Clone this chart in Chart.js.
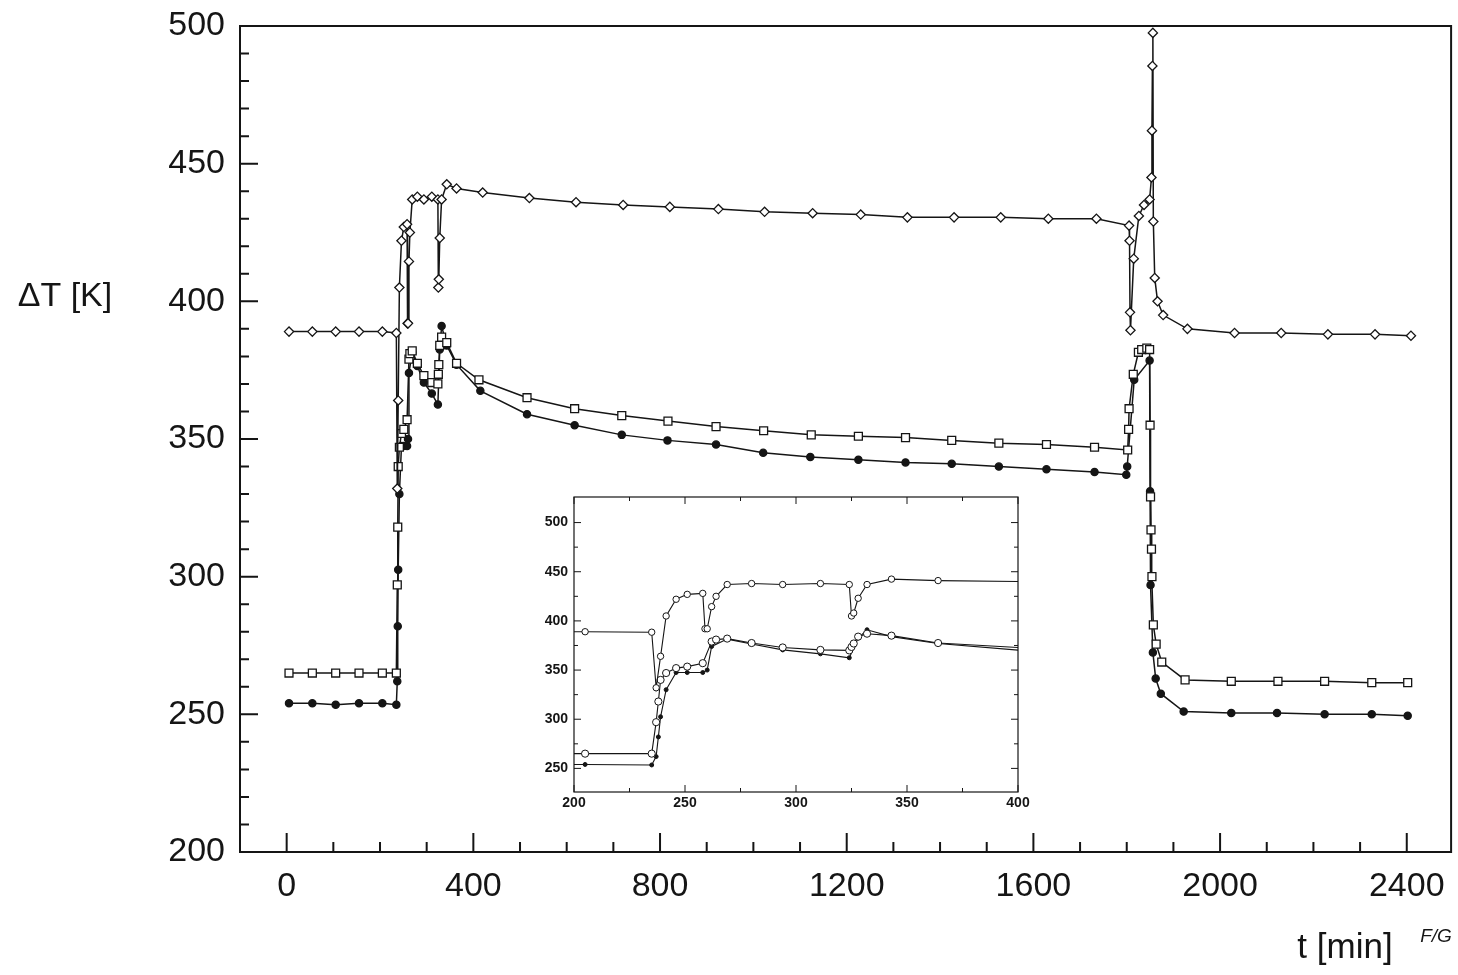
<!DOCTYPE html>
<html>
<head>
<meta charset="utf-8">
<script src="https://cdn.jsdelivr.net/npm/chart.js@4.4.1/dist/chart.umd.min.js"></script>
<style>
  body { margin: 0; background: #fff; }
  #wrap { position: relative; width: 1458px; height: 975px; }
  #insetChart { position: absolute; left: 530px; top: 490px; }
</style>
</head>
<body>
<div id="wrap">
  <canvas id="mainChart" width="1458" height="975"></canvas>
  <canvas id="insetChart" width="500" height="330"></canvas>
</div>
<script>
// open diamonds: time [min] and delta T [K]
const diamondT = [5, 55, 105, 155, 205, 235, 237, 239, 241.5, 246, 251, 258, 259, 260, 262, 264,
  269, 280, 294, 311, 324, 325, 326, 328, 332, 343, 364, 420, 520, 620, 721, 821, 925, 1024, 1127, 1230,
  1330, 1430, 1530, 1632, 1735, 1805, 1806, 1807, 1808, 1815, 1826, 1837, 1849, 1853, 1854, 1855, 1856, 1857, 1860, 1866,
  1878, 1930, 2031, 2131, 2231, 2332, 2409];
const diamondK = [389, 389, 389, 389, 389, 388.5, 332, 364, 405, 422, 427, 428, 392, 392, 414.5, 425,
  437, 438, 437, 438, 437, 405, 408, 423, 437, 442.5, 441, 439.5, 437.5, 436, 435, 434.3, 433.5, 432.5, 432, 431.5,
  430.5, 430.5, 430.5, 430, 430, 427.5, 422, 396, 389.5, 415.5, 431, 435, 437, 445, 462, 485.5, 497.5, 429, 408.5, 400,
  395, 390, 388.5, 388.5, 388, 388, 387.5];

// open squares
const squareT = [5, 55, 105, 155, 205, 235, 237, 238, 239, 241.5, 246, 251, 258, 262, 264, 269,
  280, 294, 311, 324, 325, 326, 328, 332, 343, 364, 412, 515, 617, 718, 817, 920, 1022, 1124, 1225, 1326,
  1425, 1526, 1628, 1731, 1802, 1804, 1805, 1814, 1825, 1832, 1843, 1849, 1850, 1851, 1852, 1853, 1854, 1857, 1863, 1875,
  1925, 2024, 2124, 2224, 2325, 2402];
const squareK = [265, 265, 265, 265, 265, 265, 297, 318, 340, 347, 352, 353.5, 357, 379, 381, 382,
  377.5, 373, 370.5, 370, 373.5, 377, 384, 387, 385, 377.5, 371.5, 365, 361, 358.5, 356.5, 354.5, 353, 351.5, 351, 350.5,
  349.5, 348.5, 348, 347, 346, 353.5, 361, 373.5, 381.5, 382.5, 383, 382.5, 355, 329, 317, 310, 300, 282.5, 275.5, 269,
  262.5, 262, 262, 262, 261.5, 261.5];

// filled circles
const filledT = [5, 55, 105, 155, 205, 235, 237, 238, 239, 241.5, 246, 251, 258, 260, 262, 269,
  280, 294, 311, 324, 328, 332, 343, 364, 415, 515, 617, 718, 816, 920, 1021, 1122, 1225, 1326, 1425, 1526,
  1628, 1731, 1799, 1801, 1816, 1849, 1850, 1851, 1856, 1862, 1873, 1922, 2024, 2122, 2224, 2325, 2402];
const filledK = [254, 254, 253.5, 254, 254, 253.5, 262, 282, 302.5, 330, 347.5, 347.5, 347.5, 350, 374, 381.5,
  376.5, 370.5, 366.5, 362.5, 382.5, 391, 384, 377, 367.5, 359, 355, 351.5, 349.5, 348, 345, 343.5, 342.5, 341.5, 341, 340,
  339, 338, 337, 340, 371.5, 378.5, 331, 297, 272.5, 263, 257.5, 251, 250.5, 250.5, 250, 250, 249.5];

// tick labels
const mainXTicks = [0, 400, 800, 1200, 1600, 2000, 2400];
const mainYTicks = [200, 250, 300, 350, 400, 450, 500];
const insetXTicks = [200, 250, 300, 350, 400];
const insetYTicks = [250, 300, 350, 400, 450, 500];

const ink = '#151515';

function zip(ts, ks) { return ts.map((t, i) => ({ x: t, y: ks[i] })); }

function range(a, b, step) { let out = []; for (let v = a; v <= b; v += step) { out.push(v); } return out; }

// keep the layout padding in charge, not the label overhang
function noOverhang(s) { s.paddingTop = 0; s.paddingBottom = 0; s.paddingLeft = 0; s.paddingRight = 0; }

// ticks drawn inwards from the frame
function drawTicks(ctx, scale, values, len, side, a) {
  ctx.beginPath();
  values.forEach((v) => {
    const p = scale.getPixelForValue(v);
    if (side === 'bottom') { ctx.moveTo(p, a.bottom); ctx.lineTo(p, a.bottom - len); }
    if (side === 'top') { ctx.moveTo(p, a.top); ctx.lineTo(p, a.top + len); }
    if (side === 'left') { ctx.moveTo(a.left, p); ctx.lineTo(a.left + len, p); }
    if (side === 'right') { ctx.moveTo(a.right, p); ctx.lineTo(a.right - len, p); }
  });
  ctx.stroke();
}

function decorPlugin(cfg) {
  return {
    id: 'decor',
    afterDraw(chart) {
      const { ctx, chartArea: a, scales } = chart;
      ctx.save();
      ctx.strokeStyle = ink;
      ctx.lineWidth = cfg.frameWidth;
      ctx.strokeRect(a.left, a.top, a.right - a.left, a.bottom - a.top);
      ctx.lineWidth = cfg.tickWidth;
      cfg.ticks.forEach((t) => drawTicks(ctx, scales[t.axis], t.values, t.len, t.side, a));
      ctx.fillStyle = ink;
      ctx.textBaseline = 'middle';
      (cfg.texts || []).forEach((t) => {
        ctx.font = t.font; ctx.textAlign = t.align || 'center';
        ctx.fillText(t.text, t.x, t.y);
      });
      ctx.restore();
    }
  };
}

function series(ts, ks, style, radius, fill) {
  return {
    data: zip(ts, ks),
    borderColor: ink, borderWidth: 1.5,
    pointStyle: style, pointRadius: radius,
    pointBackgroundColor: fill, pointBorderColor: ink, pointBorderWidth: 1.3,
    tension: 0
  };
}

const plain = (v) => String(v);
const tickFont = { family: '"Liberation Sans", Arial, sans-serif', size: 34 };

// main chart
new Chart('mainChart', {
  type: 'line',
  data: {
    datasets: [
      series(diamondT, diamondK, 'rectRot', 4.6, '#fff'),
      series(squareT, squareK, 'rect', 5.6, '#fff'),
      series(filledT, filledK, 'circle', 3.6, ink)
    ]
  },
  options: {
    responsive: false, animation: false,
    layout: { padding: { left: 0, top: 26, right: 3, bottom: 0 } },
    plugins: { legend: { display: false }, tooltip: { enabled: false } },
    scales: {
      x: {
        type: 'linear', min: -100, max: 2495,
        afterBuildTicks: (s) => { s.ticks = mainXTicks.map((v) => ({ value: v })); },
        afterFit: (s) => { s.height = 123; noOverhang(s); },
        grid: { display: false, drawTicks: false },
        border: { display: false },
        ticks: { color: ink, font: tickFont, padding: 14, maxRotation: 0, callback: plain }
      },
      y: {
        min: 200, max: 500,
        afterBuildTicks: (s) => { s.ticks = mainYTicks.map((v) => ({ value: v })); },
        afterFit: (s) => { s.width = 240; noOverhang(s); },
        grid: { display: false, drawTicks: false },
        border: { display: false },
        ticks: { color: ink, font: tickFont, padding: 15, callback: plain }
      }
    }
  },
  plugins: [decorPlugin({
    frameWidth: 2, tickWidth: 2,
    ticks: [
      { axis: 'x', values: mainXTicks, len: 19, side: 'bottom' },
      { axis: 'x', values: range(100, 2300, 100).filter((v) => v % 400), len: 10, side: 'bottom' },
      { axis: 'y', values: mainYTicks, len: 18, side: 'left' },
      { axis: 'y', values: range(210, 490, 10).filter((v) => v % 50), len: 9, side: 'left' }
    ],
    texts: [
      { text: 'ΔT [K]', x: 65, y: 297, font: '34px "Liberation Sans", Arial, sans-serif' },
      { text: 't [min]', x: 1345, y: 948, font: '35px "Liberation Sans", Arial, sans-serif' },
      { text: 'F/G', x: 1436, y: 937, font: 'italic 19px "Liberation Sans", Arial, sans-serif' }
    ]
  })]
});

// inset: zoom on 200..400 min
const insetFont = { family: '"Liberation Sans", Arial, sans-serif', size: 14, weight: 'bold' };

new Chart('insetChart', {
  type: 'line',
  data: {
    datasets: [
      series(diamondT, diamondK, 'circle', 3.2, '#fff'),
      series(squareT, squareK, 'circle', 3.6, '#fff'),
      series(filledT, filledK, 'circle', 2, ink)
    ].map((d) => Object.assign(d, { borderWidth: 1.1, pointBorderWidth: 1 }))
  },
  options: {
    responsive: false, animation: false,
    layout: { padding: { left: 0, top: 7, right: 12, bottom: 0 } },
    plugins: { legend: { display: false }, tooltip: { enabled: false } },
    scales: {
      x: {
        type: 'linear', min: 200, max: 400,
        afterBuildTicks: (s) => { s.ticks = insetXTicks.map((v) => ({ value: v })); },
        afterFit: (s) => { s.height = 28; noOverhang(s); },
        grid: { display: false, drawTicks: false },
        border: { display: false },
        ticks: { color: ink, font: insetFont, padding: 3, maxRotation: 0, callback: plain }
      },
      y: {
        min: 226, max: 526,
        afterBuildTicks: (s) => { s.ticks = insetYTicks.map((v) => ({ value: v })); },
        afterFit: (s) => { s.width = 44; noOverhang(s); },
        grid: { display: false, drawTicks: false },
        border: { display: false },
        ticks: { color: ink, font: insetFont, padding: 6, callback: plain }
      }
    }
  },
  plugins: [decorPlugin({
    frameWidth: 1.2, tickWidth: 1,
    ticks: [
      { axis: 'x', values: insetXTicks, len: 7, side: 'bottom' },
      { axis: 'x', values: insetXTicks, len: 7, side: 'top' },
      { axis: 'x', values: range(225, 375, 50), len: 4, side: 'bottom' },
      { axis: 'x', values: range(225, 375, 50), len: 4, side: 'top' },
      { axis: 'y', values: insetYTicks, len: 7, side: 'left' },
      { axis: 'y', values: insetYTicks, len: 7, side: 'right' },
      { axis: 'y', values: range(275, 475, 50), len: 4, side: 'left' },
      { axis: 'y', values: range(275, 475, 50), len: 4, side: 'right' }
    ]
  })]
});
</script>
</body>
</html>
